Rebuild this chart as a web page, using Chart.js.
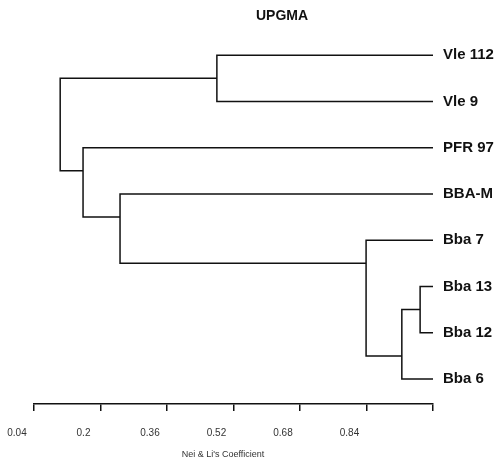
<!DOCTYPE html>
<html>
<head>
<meta charset="utf-8">
<script src="https://cdn.jsdelivr.net/npm/chart.js@4.4.1/dist/chart.umd.min.js"></script>
<style>
  html, body { margin: 0; padding: 0; background: #fff; }
  #wrap { width: 497px; height: 459px; }
</style>
</head>
<body>
<div id="wrap"><canvas id="dendro"></canvas></div>
<script>
// leaves, top to bottom
const leafNames = ['Vle 112', 'Vle 9', 'PFR 97', 'BBA-M', 'Bba 7', 'Bba 13', 'Bba 12', 'Bba 6'];
const leafLevel = 1.0;

// merges: children ('L' = leaf, 'N' = earlier merge), coefficient, row of the outgoing branch
const mergeA     = ['L0', 'L5', 'N1', 'L4', 'L3', 'L2', 'N0'];
const mergeB     = ['L1', 'L6', 'L7', 'N2', 'N3', 'N4', 'N5'];
const mergeLevel = [0.480, 0.969, 0.925, 0.839, 0.247, 0.158, 0.103];
const mergeRow   = [0.5, 5.5, 6.5, 4.5, 3.5, 2.5, 1.5];

const tickValues = [0.04, 0.2, 0.36, 0.52, 0.68, 0.84, 1.0];
const tickLabels = ['0.04', '0.2', '0.36', '0.52', '0.68', '0.84', ''];

const FONT = '"Liberation Sans", Arial, Helvetica, sans-serif';
const INK = '#111';

function nodePos(ref) {
    const i = parseInt(ref.slice(1), 10);
    if (ref[0] === 'L') return { x: leafLevel, y: i };
    return { x: mergeLevel[i], y: mergeRow[i] };
}

const datasets = mergeLevel.map(function (lv, i) {
    const a = nodePos(mergeA[i]);
    const b = nodePos(mergeB[i]);
    return {
        data: [
            { x: a.x, y: a.y },
            { x: lv, y: a.y },
            { x: lv, y: b.y },
            { x: b.x, y: b.y }
        ],
        showLine: true,
        borderColor: INK,
        borderWidth: 1.5,
        pointRadius: 0,
        pointHoverRadius: 0,
        fill: false
    };
});

const textPlugin = {
    id: 'texts',
    afterDraw: function (chart) {
        const ctx = chart.ctx;
        ctx.save();
        ctx.fillStyle = INK;
        ctx.textAlign = 'center';
        ctx.textBaseline = 'middle';
        ctx.font = 'bold 14px ' + FONT;
        ctx.fillText('UPGMA', 282, 16);
        ctx.fillStyle = '#333';
        ctx.font = '9px ' + FONT;
        ctx.fillText("Nei & Li's Coefficient", 223, 455);
        ctx.restore();
    }
};

new Chart(document.getElementById('dendro'), {
    type: 'scatter',
    data: { datasets: datasets },
    plugins: [textPlugin],
    options: {
        responsive: true,
        maintainAspectRatio: false,
        animation: false,
        events: [],
        layout: { padding: { top: 32, left: 34, right: 0, bottom: 4 } },
        plugins: {
            legend: { display: false },
            tooltip: { enabled: false }
        },
        scales: {
            x: {
                type: 'linear',
                min: 0.04,
                max: 1.0,
                afterBuildTicks: function (scale) {
                    scale.ticks = tickValues.map(v => ({ value: v }));
                },
                grid: {
                    drawOnChartArea: false,
                    drawTicks: true,
                    tickLength: 7,
                    color: INK,
                    lineWidth: 1.5
                },
                border: { display: true, color: INK, width: 1.5 },
                ticks: {
                    autoSkip: false,
                    maxRotation: 0,
                    padding: 16,
                    labelOffset: -17,
                    color: '#333',
                    font: { family: FONT, size: 10 },
                    callback: function (v, i) { return tickLabels[i]; }
                }
            },
            y: {
                type: 'linear',
                position: 'right',
                reverse: true,
                min: -0.5,
                max: 7.54,
                afterBuildTicks: function (scale) {
                    scale.ticks = leafNames.map((n, i) => ({ value: i }));
                },
                afterFit: function (scale) { scale.width = 64; },
                grid: { display: false, drawTicks: false },
                border: { display: false },
                ticks: {
                    autoSkip: false,
                    padding: 10,
                    color: INK,
                    font: { family: FONT, size: 15, weight: 'bold' },
                    callback: function (v) { return leafNames[v]; }
                }
            }
        }
    }
});
</script>
</body>
</html>
